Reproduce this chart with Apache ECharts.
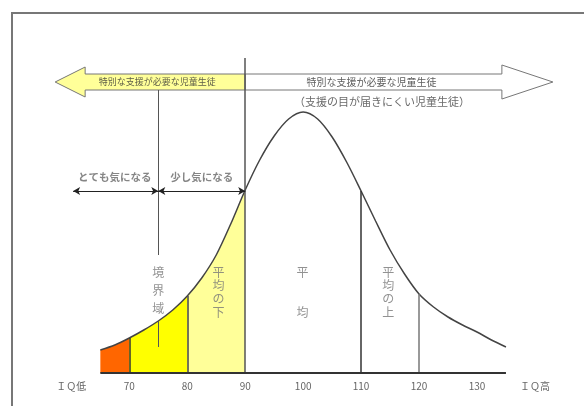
<!DOCTYPE html>
<html>
<head>
<meta charset="utf-8">
<script src="https://cdn.jsdelivr.net/npm/echarts@6/dist/echarts.min.js"></script>
<style>
  html, body { margin: 0; padding: 0; background: #fff; }
  #chart { width: 584px; height: 406px; }
</style>
</head>
<body>
<div id="chart"></div>
<script>
// IQ distribution curve (relative height above the baseline)
var iq = [65, 67.5, 70, 72.5, 75, 77.5, 80, 82.5, 85, 87.5, 90, 92.5, 95, 97.5, 100,
  102.5, 105, 107.5, 110, 112.5, 115, 117.5, 120, 122.5, 125, 127.5, 130, 132.5, 135];
var height = [23, 28, 35, 43, 52, 63, 77, 95, 118, 149, 183, 213, 237, 254, 261,
  254, 236, 211, 182, 152, 123, 99, 79, 66, 56, 48, 41, 33, 26];

// coloured bands under the curve
var bandEdges = [65, 70, 80, 90];
var bandColors = ['#ff6600', '#ffff00', '#ffff99'];

// axis labels
var tickValues = [60, 70, 80, 90, 100, 110, 120, 130, 140];
var tickLabels = ['ＩＱ低', '70', '80', '90', '100', '110', '120', '130', 'ＩＱ高'];

// block arrows: tail IQ, tip IQ, level
var arrowTail = [90, 90];
var arrowTip = [57.2, 143.1];
var arrowLevel = [291, 291];

// notes
var noteTexts = ['特別な支援が必要な児童生徒', '特別な支援が必要な児童生徒', '（支援の目が届きにくい児童生徒）',
  'とても気になる', '少し気になる', '境界域', '平均の下', '平均', '平均の上'];
var noteIQ = [74.8, 111.8, 113.6, 67.5, 82.5, 75, 85.4, 99.9, 114.7];
var noteLevel = [291, 291, 271, 196, 196, 83, 81, 81, 81];

function at(x) { return height[iq.indexOf(x)]; }

var font = '"Noto Sans CJK JP", "Noto Sans", sans-serif';
var noteStyles = [
  { fontSize: 9, color: '#333' },
  { fontSize: 10, color: '#333' },
  { fontSize: 11, color: '#444' },
  { fontSize: 10.5, color: '#666', fontWeight: 'bold' },
  { fontSize: 10.5, color: '#666', fontWeight: 'bold' },
  { fontSize: 12, color: '#777', lineHeight: 18, vertical: true },
  { fontSize: 12, color: '#777', lineHeight: 13.3, vertical: true },
  { fontSize: 12, color: '#777', lineHeight: 13.3, vertical: true, gap: 2 },
  { fontSize: 12, color: '#777', lineHeight: 13.3, vertical: true }
];

var noteData = noteTexts.map(function(t, i) {
  var s = noteStyles[i];
  var text = t;
  if (s.vertical) {
    var sep = '\n';
    for (var k = 0; k < (s.gap || 0); k++) sep += '\n';
    text = t.split('').join(sep);
  }
  return {
    value: [noteIQ[i], noteLevel[i]],
    label: {
      show: true, position: 'inside', formatter: text,
      fontSize: s.fontSize, color: s.color, fontWeight: s.fontWeight || 'normal',
      lineHeight: s.lineHeight || s.fontSize + 2, fontFamily: font, align: 'center'
    }
  };
});

var arrowData = arrowTail.map(function(t, i) { return [t, arrowTip[i], arrowLevel[i]]; });

var pieces = bandColors.map(function(c, i) {
  return { gte: bandEdges[i], lt: bandEdges[i + 1], color: c };
});

function vline(x, y0, y1, color, width) {
  return [
    { coord: [x, y0], lineStyle: { color: color, width: width, type: 'solid' } },
    { coord: [x, y1] }
  ];
}
function dbl(x0, x1, y) {
  return [
    { coord: [x0, y], symbol: 'arrow', lineStyle: { color: '#222', width: 1, type: 'solid' } },
    { coord: [x1, y], symbol: 'arrow' }
  ];
}

var chart = echarts.init(document.getElementById('chart'), null, { renderer: 'canvas' });
chart.setOption({
  animation: false,
  backgroundColor: '#fff',
  textStyle: { fontFamily: font },
  grid: { left: 42.4, right: 20.1, top: 53, bottom: 33 },
  xAxis: {
    type: 'value', min: 55, max: 145,
    axisLine: { show: false }, axisTick: { show: false }, splitLine: { show: false },
    axisLabel: {
      customValues: tickValues,
      formatter: function(v) { return tickLabels[tickValues.indexOf(v)]; },
      color: '#666', fontSize: 10, margin: 8, fontFamily: font
    }
  },
  yAxis: { type: 'value', min: 0, max: 320, show: false },
  visualMap: {
    type: 'piecewise', show: false, dimension: 0, seriesIndex: 0,
    pieces: pieces,
    outOfRange: { color: 'rgba(255,255,255,0)' }
  },
  series: [{
    type: 'line',
    data: iq.map(function(x, i) { return [x, height[i]]; }),
    smooth: 0.3,
    showSymbol: false,
    silent: true,
    z: 3,
    lineStyle: { color: '#444', width: 1.5 },
    areaStyle: { opacity: 1 },
    markLine: {
      silent: true, symbol: ['none', 'none'], symbolSize: [6, 7],
      label: { show: false },
      data: [
        vline(70, 0, at(70), '#333', 1.5),
        vline(80, 0, at(80), '#444', 1.5),
        vline(90, 0, 315, '#555', 1.5),
        vline(110, 0, at(110), '#333', 1.5),
        vline(120, 0, at(120), '#777', 1.5),
        vline(75, 283, 118, '#555', 1),
        vline(75, at(75), 26, '#555', 1),
        [{ coord: [65, 0], lineStyle: { color: '#333', width: 2, type: 'solid' } }, { coord: [135, 0] }],
        dbl(60.3, 75, 182),
        dbl(75, 90, 182)
      ]
    }
  }, {
    type: 'custom',
    silent: true,
    z: 2,
    data: arrowData,
    renderItem: function(params, api) {
      var tail = api.coord([api.value(0), api.value(2)]);
      var tip = api.coord([api.value(1), api.value(2)]);
      var dir = tip[0] > tail[0] ? 1 : -1;
      var headLen = dir > 0 ? 51 : 30;
      var headHalf = dir > 0 ? 17 : 15;
      var shaft = 8;
      var y = tip[1];
      var base = tip[0] - dir * headLen;
      return {
        type: 'polygon',
        shape: { points: [
          [tail[0], y - shaft], [base, y - shaft], [base, y - headHalf], [tip[0], y],
          [base, y + headHalf], [base, y + shaft], [tail[0], y + shaft]
        ] },
        style: { fill: dir > 0 ? '#ffffff' : '#ffff99', stroke: '#777', lineWidth: 1 }
      };
    }
  }, {
    type: 'scatter',
    silent: true,
    z: 5,
    symbolSize: 0,
    data: noteData
  }],
  graphic: [{
    type: 'rect',
    shape: { x: 12, y: 13, width: 640, height: 440 },
    style: { fill: 'none', stroke: '#777', lineWidth: 2 }
  }]
});
window.addEventListener('resize', function() { chart.resize(); });
</script>
</body>
</html>
